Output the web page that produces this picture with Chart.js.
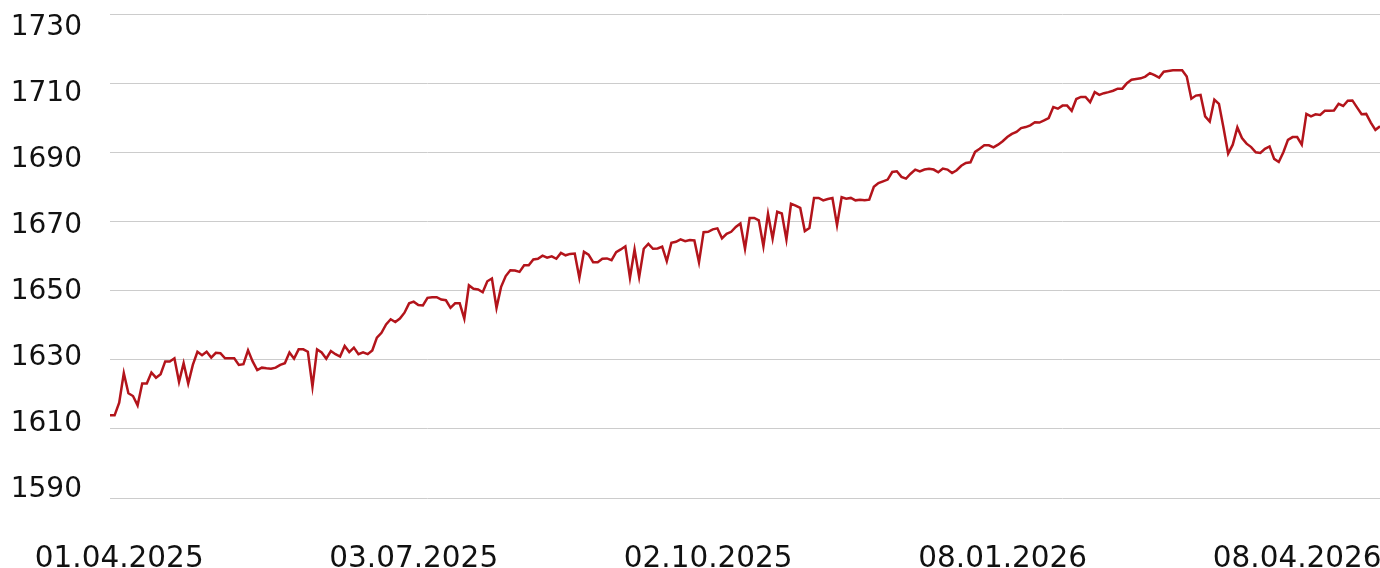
<!DOCTYPE html>
<html>
<head>
<meta charset="utf-8">
<script src="https://cdn.jsdelivr.net/npm/chart.js@4/dist/chart.umd.min.js"></script>
<style>
  html, body { margin: 0; padding: 0; background: #ffffff; }
  #wrap { width: 1380px; height: 568px; }
</style>
</head>
<body>
<div id="wrap"><canvas id="c" width="1380" height="568"></canvas></div>
<script>
// Series values (daily index level)
const values = [
  1613.9, 1613.9, 1617.6, 1626.1, 1620.3, 1619.5, 1616.8, 1623.1, 1623.1, 1626.3,
  1624.8, 1625.8, 1629.5, 1629.5, 1630.4, 1623.6, 1629.0, 1623.1, 1628.5, 1632.3,
  1631.3, 1632.3, 1630.6, 1632.0, 1631.9, 1630.4, 1630.4, 1630.4, 1628.5, 1628.7,
  1632.7, 1629.5, 1627.0, 1627.7, 1627.5, 1627.4, 1627.7, 1628.5, 1629.0, 1632.1,
  1630.3, 1633.0, 1633.0, 1632.3, 1622.2, 1633.0, 1632.1, 1630.3, 1632.5, 1631.6,
  1630.9, 1634.0, 1632.2, 1633.5, 1631.6, 1632.1, 1631.6, 1632.7, 1636.4, 1637.8,
  1640.2, 1641.7, 1640.9, 1641.9, 1643.6, 1646.3, 1646.8, 1645.8, 1645.7, 1647.9,
  1648.1, 1648.1, 1647.4, 1647.2, 1645.0, 1646.3, 1646.3, 1641.9, 1651.5, 1650.5,
  1650.3, 1649.5, 1652.7, 1653.5, 1645.0, 1651.1, 1654.2, 1655.9, 1655.8, 1655.4,
  1657.3, 1657.3, 1659.0, 1659.2, 1660.1, 1659.5, 1659.9, 1659.2, 1660.9, 1660.2,
  1660.6, 1660.7, 1653.7, 1661.2, 1660.4, 1658.2, 1658.2, 1659.2, 1659.3, 1658.8,
  1661.1, 1661.9, 1662.8, 1653.7, 1661.9, 1653.9, 1662.1, 1663.5, 1662.1, 1662.2,
  1662.7, 1658.5, 1663.8, 1664.1, 1664.8, 1664.3, 1664.6, 1664.5, 1658.2, 1666.9,
  1667.0, 1667.7, 1668.0, 1665.1, 1666.4, 1667.0, 1668.4, 1669.4, 1662.1, 1671.0,
  1671.0, 1670.3, 1662.8, 1672.2, 1665.0, 1672.8, 1672.3, 1664.8, 1675.1, 1674.6,
  1673.9, 1667.2, 1668.1, 1676.8, 1676.8, 1676.1, 1676.5, 1676.8, 1668.9, 1677.0,
  1676.6, 1676.8, 1676.1, 1676.3, 1676.1, 1676.3, 1680.0, 1681.1, 1681.6, 1682.1,
  1684.3, 1684.5, 1682.9, 1682.4, 1683.8, 1685.0, 1684.5, 1685.0, 1685.2, 1685.0,
  1684.2, 1685.3, 1685.0, 1684.0, 1684.8, 1686.1, 1686.9, 1687.1, 1690.1, 1691.0,
  1692.0, 1692.0, 1691.4, 1692.2, 1693.2, 1694.4, 1695.3, 1695.9, 1697.0, 1697.3,
  1697.8, 1698.7, 1698.6, 1699.2, 1699.9, 1703.1, 1702.6, 1703.5, 1703.5, 1702.0,
  1705.4, 1706.0, 1706.0, 1704.5, 1707.4, 1706.6, 1707.1, 1707.4, 1707.8, 1708.4,
  1708.4, 1710.0, 1711.0, 1711.2, 1711.4, 1711.9, 1712.9, 1712.3, 1711.6, 1713.3,
  1713.5, 1713.7, 1713.7, 1713.7, 1711.9, 1705.5, 1706.4, 1706.6, 1700.4, 1698.9,
  1705.2, 1704.0, 1697.0, 1689.6, 1692.2, 1697.2, 1694.1, 1692.5, 1691.5, 1690.0,
  1689.8, 1691.0, 1691.7, 1688.1, 1687.2, 1690.0, 1693.6, 1694.4, 1694.4, 1692.2,
  1701.1, 1700.4, 1701.0, 1700.8, 1702.0, 1702.0, 1702.1, 1704.0, 1703.4, 1704.9,
  1705.0, 1703.0, 1701.0, 1701.1, 1698.6, 1696.5, 1697.5
];

// X tick positions (data index) and their date labels
const xTickIndex = [2, 66, 130, 194, 258];
const xTickLabels = ['01.04.2025', '03.07.2025', '02.10.2025', '08.01.2026', '08.04.2026'];

// Y tick values
const yTicks = [1590, 1610, 1630, 1650, 1670, 1690, 1710, 1730];

const points = values.map((v, i) => ({ x: i, y: v }));
const FAMILY = "'DejaVu Sans', Verdana, sans-serif";

function noPad(s) { s.paddingTop = 0; s.paddingBottom = 0; s.paddingLeft = 0; s.paddingRight = 0; }

new Chart(document.getElementById('c'), {
  type: 'line',
  data: {
    datasets: [{
      data: points,
      borderColor: '#b3141b',
      borderWidth: 2.5,
      pointRadius: 0,
      tension: 0,
      fill: false
    }]
  },
  options: {
    responsive: false,
    animation: false,
    events: [],
    layout: { padding: { left: 12, right: 0, top: 14, bottom: 0 } },
    plugins: { legend: { display: false }, tooltip: { enabled: false } },
    scales: {
      x: {
        type: 'linear',
        min: 0,
        max: values.length - 1,
        grid: { display: false, drawTicks: false },
        border: { display: false },
        afterBuildTicks: (s) => { s.ticks = xTickIndex.map(v => ({ value: v })); },
        afterFit: (s) => { s.height = 70; noPad(s); },
        ticks: {
          autoSkip: false,
          maxRotation: 0,
          padding: 44,
          color: '#111',
          font: { family: FAMILY, size: 29.5 },
          callback: (v) => { const k = xTickIndex.indexOf(v); return k >= 0 ? xTickLabels[k] : ''; }
        }
      },
      y: {
        position: 'left',
        min: 1590,
        max: 1730,
        grid: { color: '#cccccc', lineWidth: 1, drawTicks: false },
        border: { display: false },
        afterBuildTicks: (s) => { s.ticks = yTicks.map(v => ({ value: v })); },
        afterFit: (s) => { s.width = 0; noPad(s); },
        ticks: { display: false }
      },
      yLab: {
        position: 'left',
        min: 1587.58,
        max: 1734.09,
        grid: { display: false, drawTicks: false },
        border: { display: false },
        afterBuildTicks: (s) => { s.ticks = yTicks.map(v => ({ value: v })); },
        afterFit: (s) => { s.width = 98; noPad(s); },
        ticks: { padding: 28, color: '#111', font: { family: FAMILY, size: 28 }, callback: (v) => String(v) }
      }
    }
  }
});
</script>
</body>
</html>
